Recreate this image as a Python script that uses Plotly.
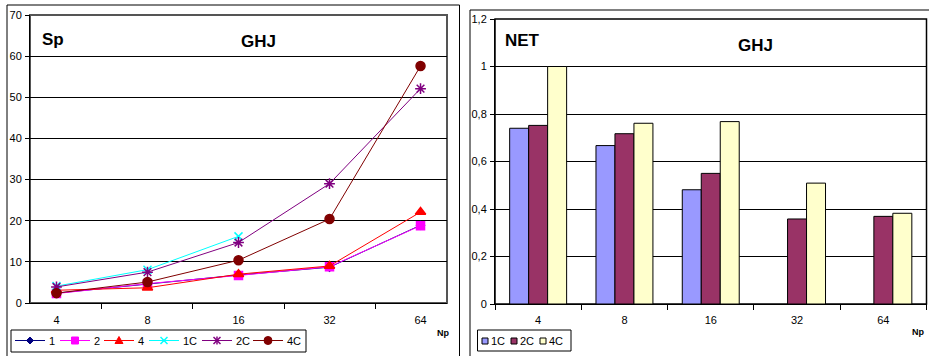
import plotly.graph_objects as go

# ---------------- data ----------------
np_labels = ["4", "8", "16", "32", "64"]

sp_1 = [2.4, 4.6, 6.8, 8.7, 18.9]
sp_2 = [2.3, 4.7, 6.7, 8.8, 18.8]
sp_4 = [3.1, 3.7, 7.0, 9.0, 22.1]
sp_1c = [4.1, 8.1, 16.2, None, None]
sp_2c = [3.9, 7.5, 14.7, 29.0, 52.1]
sp_4c = [2.4, 5.1, 10.4, 20.4, 57.6]

net_1c = [0.74, 0.667, 0.481, None, None]
net_2c = [0.752, 0.717, 0.55, 0.358, 0.369]
net_4c = [1.0, 0.761, 0.768, 0.509, 0.382]

W, H = 929, 356
FONT = "Arial, Liberation Sans, sans-serif"


def px_x(v):
    return v / W


def px_y(v):
    return (H - v) / H


def path(points, close=True):
    s = "M " + " L ".join(f"{px_x(x):.5f},{px_y(y):.5f}" for x, y in points)
    return s + (" Z" if close else "")


fig = go.Figure()

line_series = [
    ("1", sp_1, "#000080", "diamond", 6),
    ("2", sp_2, "#FF00FF", "square", 8),
    ("4", sp_4, "#FF0000", "triangle-up", 9),
    ("1C", sp_1c, "#00FFFF", "x-thin-open", 8),
    ("2C", sp_2c, "#800080", "asterisk-open", 9),
    ("4C", sp_4c, "#800000", "circle", 9),
]
for name, vals, col, sym, size in line_series:
    fig.add_trace(go.Scatter(
        x=np_labels, y=vals, name=name, mode="lines+markers",
        line=dict(color=col, width=1),
        marker=dict(symbol=sym, size=size, color=col,
                    line=dict(color=col, width=1.5)),
        xaxis="x", yaxis="y", showlegend=False,
    ))

bar_series = [
    ("1C", net_1c, "#9999FF"),
    ("2C", net_2c, "#993366"),
    ("4C", net_4c, "#FFFFCC"),
]
for name, vals, col in bar_series:
    fig.add_trace(go.Bar(
        x=np_labels, y=vals, name=name,
        marker=dict(color=col, line=dict(color="#000000", width=1)),
        xaxis="x2", yaxis="y2", showlegend=False,
    ))

axis_font = dict(family=FONT, size=11, color="#000000")

fig.update_layout(
    width=W, height=H,
    margin=dict(l=0, r=0, t=0, b=0, autoexpand=False),
    paper_bgcolor="white", plot_bgcolor="white",
    font=dict(family=FONT, color="#000000"),
    barmode="group", bargap=0.34, bargroupgap=0,
    separators=",.",
    showlegend=False,
    xaxis=dict(domain=[px_x(30), px_x(447)], anchor="y", type="category",
               tickson="boundaries", ticks="outside", ticklen=5,
               tickcolor="#000000", showline=True, linecolor="#000000",
               linewidth=1, showgrid=False, tickfont=axis_font,
               ticklabelstandoff=7),
    yaxis=dict(domain=[px_y(303), px_y(15)], anchor="x", range=[0, 70],
               dtick=10, ticks="outside", ticklen=4, tickcolor="#000000",
               showline=True, linecolor="#000000", linewidth=1,
               showgrid=True, gridcolor="#000000", gridwidth=1,
               zeroline=False, tickfont=axis_font, ticklabelstandoff=1),
    xaxis2=dict(domain=[px_x(495), px_x(926.5)], anchor="y2", type="category",
                tickson="boundaries", ticks="outside", ticklen=5,
                tickcolor="#000000", showline=True, linecolor="#000000",
                linewidth=1, showgrid=False, tickfont=axis_font,
                ticklabelstandoff=6),
    yaxis2=dict(domain=[px_y(304), px_y(19)], anchor="x2", range=[0, 1.2],
                dtick=0.2, ticks="outside", ticklen=4, tickcolor="#000000",
                showline=True, linecolor="#000000", linewidth=1,
                showgrid=True, gridcolor="#000000", gridwidth=1,
                zeroline=False, tickfont=axis_font, ticklabelstandoff=1),
)

# frames of the two chart areas
fig.add_shape(type="rect", xref="paper", yref="paper",
              x0=px_x(7), x1=px_x(459.5), y0=px_y(370), y1=px_y(5),
              line=dict(color="#000000", width=1), layer="below")
fig.add_shape(type="rect", xref="paper", yref="paper",
              x0=px_x(470), x1=px_x(940), y0=px_y(370), y1=px_y(10),
              line=dict(color="#000000", width=1), layer="below")
# plot-area borders
fig.add_shape(type="rect", xref="x domain", yref="y domain",
              x0=0, x1=1, y0=0, y1=1,
              line=dict(color="#555555", width=2), layer="below")
fig.add_shape(type="rect", xref="x2 domain", yref="y2 domain",
              x0=0, x1=1, y0=0, y1=1,
              line=dict(color="#000000", width=1.5), layer="below")

leg_font = dict(family=FONT, size=11, color="#000000")

# ---- legend of the line chart (line + symbol + label) ----
fig.add_shape(type="rect", xref="paper", yref="paper",
              x0=px_x(11), x1=px_x(306), y0=px_y(352), y1=px_y(330),
              line=dict(color="#000000", width=1), fillcolor="white")
leg_line_x = [15, 60, 104, 149, 202, 253]
cy = 340.5
for (name, _v, col, sym, _s), lx in zip(line_series, leg_line_x):
    cx = lx + 15
    fig.add_shape(type="line", xref="paper", yref="paper",
                  x0=px_x(lx), x1=px_x(lx + 30), y0=px_y(cy), y1=px_y(cy),
                  line=dict(color=col, width=1))
    if sym == "diamond":
        fig.add_shape(type="path", xref="paper", yref="paper",
                      path=path([(cx, cy - 3.5), (cx + 3.5, cy), (cx, cy + 3.5), (cx - 3.5, cy)]),
                      fillcolor=col, line=dict(color=col, width=1))
    elif sym == "square":
        fig.add_shape(type="rect", xref="paper", yref="paper",
                      x0=px_x(cx - 3.5), x1=px_x(cx + 3.5),
                      y0=px_y(cy + 3.5), y1=px_y(cy - 3.5),
                      fillcolor=col, line=dict(color=col, width=1))
    elif sym == "triangle-up":
        fig.add_shape(type="path", xref="paper", yref="paper",
                      path=path([(cx, cy - 4), (cx + 4, cy + 3), (cx - 4, cy + 3)]),
                      fillcolor=col, line=dict(color=col, width=1))
    elif sym == "x-thin-open":
        for a, b in [((cx - 3.5, cy - 3.5), (cx + 3.5, cy + 3.5)),
                     ((cx - 3.5, cy + 3.5), (cx + 3.5, cy - 3.5))]:
            fig.add_shape(type="path", xref="paper", yref="paper",
                          path=path([a, b], close=False),
                          line=dict(color=col, width=1.5))
    elif sym == "asterisk-open":
        for a, b in [((cx - 3.5, cy - 3.5), (cx + 3.5, cy + 3.5)),
                     ((cx - 3.5, cy + 3.5), (cx + 3.5, cy - 3.5)),
                     ((cx, cy - 4), (cx, cy + 4))]:
            fig.add_shape(type="path", xref="paper", yref="paper",
                          path=path([a, b], close=False),
                          line=dict(color=col, width=1.5))
    elif sym == "circle":
        fig.add_shape(type="circle", xref="paper", yref="paper",
                      x0=px_x(cx - 4), x1=px_x(cx + 4),
                      y0=px_y(cy + 4), y1=px_y(cy - 4),
                      fillcolor=col, line=dict(color=col, width=1))
    fig.add_annotation(text=name, x=px_x(lx + 32), y=px_y(cy),
                       xref="paper", yref="paper", showarrow=False,
                       xanchor="left", yanchor="middle", font=leg_font)

# ---- legend of the bar chart (swatches + labels) ----
fig.add_shape(type="rect", xref="paper", yref="paper",
              x0=px_x(477.5), x1=px_x(571), y0=px_y(351), y1=px_y(330),
              line=dict(color="#000000", width=1), fillcolor="white")
leg_x = [482, 511, 540]
for (name, _vals, col), lx in zip(bar_series, leg_x):
    fig.add_shape(type="rect", xref="paper", yref="paper",
                  x0=px_x(lx), x1=px_x(lx + 6), y0=px_y(344), y1=px_y(338),
                  line=dict(color="#000000", width=1), fillcolor=col)
    fig.add_annotation(text=name, x=px_x(lx + 6.5), y=px_y(341),
                       xref="paper", yref="paper", showarrow=False,
                       xanchor="left", yanchor="middle", font=leg_font)

title_font = dict(family=FONT, size=17, color="#000000")
for txt, x, y in [("<b>Sp</b>", 53, 39), ("<b>GHJ</b>", 258, 42),
                  ("<b>NET</b>", 522, 40), ("<b>GHJ</b>", 755, 45)]:
    fig.add_annotation(text=txt, x=px_x(x), y=px_y(y), xref="paper",
                       yref="paper", showarrow=False, font=title_font,
                       xanchor="center", yanchor="middle")
for x, y, anc in [(443, 333, "center"), (927, 332, "right")]:
    fig.add_annotation(text="<b>Np</b>", x=px_x(x), y=px_y(y), xref="paper",
                       yref="paper", showarrow=False,
                       font=dict(family=FONT, size=9, color="#000000"),
                       xanchor=anc, yanchor="middle")

fig.write_html(
    "out.html",
    config={"displayModeBar": False},
    post_script="document.body.style.margin='0';"
                "document.body.style.overflow='hidden';",
)
